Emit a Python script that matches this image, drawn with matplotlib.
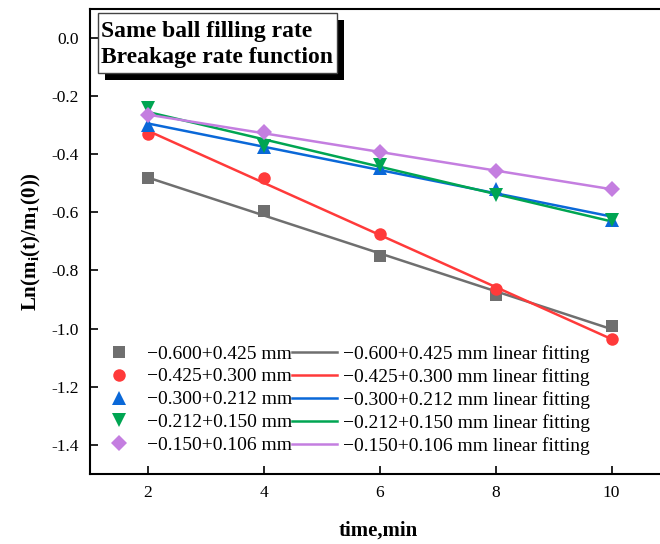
import numpy as np
import matplotlib
matplotlib.use("Agg")
import matplotlib.pyplot as plt

plt.rcParams["font.family"] = ["Liberation Serif", "DejaVu Serif"]
plt.rcParams["mathtext.fontset"] = "custom"
plt.rcParams["mathtext.rm"] = "Liberation Serif"
plt.rcParams["mathtext.bf"] = "Liberation Serif:bold"

# ── Data ──────────────────────────────────────────────────────────────────────
time_min = [2, 4, 6, 8, 10]
sizes = ["0.600+0.425", "0.425+0.300", "0.300+0.212", "0.212+0.150", "0.150+0.106"]
y_0600 = [-0.482, -0.597, -0.750, -0.886, -0.990]
y_0425 = [-0.330, -0.482, -0.676, -0.865, -1.035]
y_0300 = [-0.300, -0.375, -0.448, -0.520, -0.628]
y_0212 = [-0.240, -0.370, -0.437, -0.542, -0.625]
y_0150 = [-0.265, -0.325, -0.393, -0.457, -0.520]
series = [y_0600, y_0425, y_0300, y_0212, y_0150]
title_lines = ["Same ball filling rate", "Breakage rate function"]

colors  = ["#6f6f6f", "#ff3a3a", "#0a68d8", "#00a552", "#c47ee0"]
markers = ["s", "o", "^", "v", "D"]
msizes  = [8, 9, 9.5, 9.5, 8]

fig = plt.figure(figsize=(6.6, 5.44), dpi=100)
ax = fig.add_axes([0.136, 0.129, 0.874, 0.8545])

pts, fits = [], []
for ys, c, m, ms, s in zip(series, colors, markers, msizes, sizes):
    h, = ax.plot(time_min, ys, linestyle="none", marker=m, ms=ms, color=c,
                 markeredgewidth=0, label=f"\u2212{s} mm", zorder=3)
    k, b = np.polyfit(time_min, ys, 1)
    xx = np.array([time_min[0], time_min[-1]])
    l, = ax.plot(xx, k * xx + b, color=c, lw=1.8,
                 label=f"\u2212{s} mm linear fitting", zorder=2)
    pts.append(h)
    fits.append(l)

ax.set_xlim(1.0, 10.95)
ax.set_ylim(-1.5, 0.1)
ax.set_xticks([2, 4, 6, 8, 10])
ax.set_yticks([0.0, -0.2, -0.4, -0.6, -0.8, -1.0, -1.2, -1.4])
ax.set_yticklabels(["0.0", "-0.2", "-0.4", "-0.6", "-0.8", "-1.0", "-1.2", "-1.4"])
ax.tick_params(direction="in", length=6, width=1.2, labelsize=12.5, pad=8)
for sp in ax.spines.values():
    sp.set_linewidth(1.5)

ax.set_xlabel("time,min", fontsize=15, fontweight="bold", labelpad=14)
ax.set_ylabel(r"$\mathbf{Ln(m_i(t)/m_1(0))}$", fontsize=15, labelpad=6)

leg = ax.legend(pts + fits, [h.get_label() for h in pts + fits], ncol=2,
                loc="lower left", bbox_to_anchor=(-0.012, 0.011), frameon=False,
                fontsize=14, handlelength=2.3, handletextpad=0.3,
                columnspacing=0.0, labelspacing=0.27, borderaxespad=0.3)

# title box with drop shadow (box + offset black rectangle, axes coords)
bx0, bx1, by0, by1 = 0.0138, 0.4286, 0.863, 0.992
sx, sy = 7 / 577, 7 / 465
ax.add_patch(plt.Rectangle((bx0 + sx, by0 - sy), bx1 - bx0, by1 - by0,
                           transform=ax.transAxes, fc="black", ec="none",
                           zorder=5, clip_on=False))
ax.add_patch(plt.Rectangle((bx0, by0), bx1 - bx0, by1 - by0,
                           transform=ax.transAxes, fc="white", ec="#444444",
                           lw=1.0, zorder=6, clip_on=False))
for line, yb in zip(title_lines, [0.9404, 0.8832]):
    ax.text(0.0195, yb, line, transform=ax.transAxes, ha="left", va="baseline",
            fontsize=17, fontweight="bold", zorder=7)

fig.savefig("out.png", dpi=100)
